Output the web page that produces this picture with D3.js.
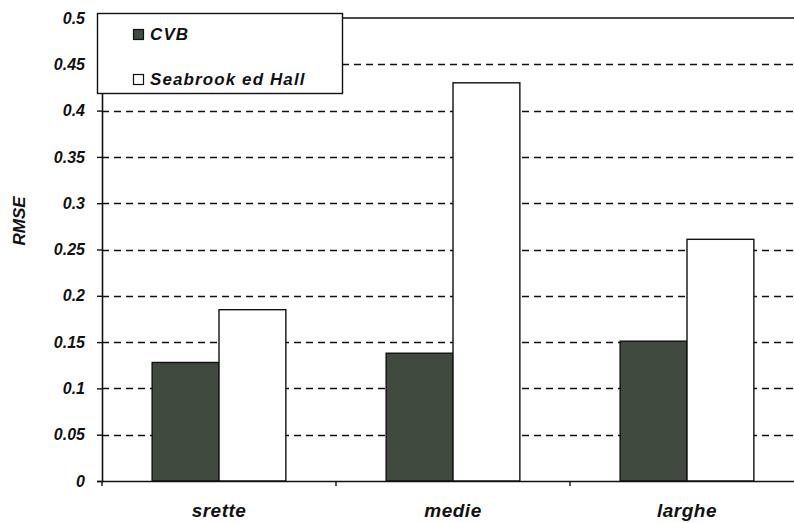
<!DOCTYPE html>
<html>
<head>
<meta charset="utf-8">
<script src="https://cdn.jsdelivr.net/npm/d3@7"></script>
<style>
  html, body { margin: 0; padding: 0; background: #fff; }
  svg { display: block; }
  text { font-family: "Liberation Sans", Arial, sans-serif; font-weight: bold; font-style: italic; fill: #111; }
</style>
</head>
<body>
<svg id="chart" width="794" height="523"></svg>
<script>
// Dataset: RMSE per canal width class
const categories = ["srette", "medie", "larghe"];
const seriesNames = ["CVB", "Seabrook ed Hall"];
const cvbValues = [0.128, 0.138, 0.151];
const seabrookValues = [0.185, 0.43, 0.261];
const yTicks = [0, 0.05, 0.1, 0.15, 0.2, 0.25, 0.3, 0.35, 0.4, 0.45, 0.5];
const yTickLabels = ["0", "0.05", "0.1", "0.15", "0.2", "0.25", "0.3", "0.35", "0.4", "0.45", "0.5"];
const yTitle = "RMSE";

const colors = ["#404a3f", "#ffffff"];

const svg = d3.select("#chart");
const plotLeft = 102, plotRight = 804, plotTop = 18, plotBottom = 481;

const x = d3.scaleBand().domain(categories).range([plotLeft, plotRight]).paddingInner(0).paddingOuter(0);
// each group: 2 bars plus a gap of 1.5 bar widths
const barW = x.bandwidth() / 3.5;
const y = d3.scaleLinear().domain([0, 0.5]).range([plotBottom, plotTop]);

// Dashed gridlines
svg.append("g")
  .selectAll("line")
  .data(yTicks.filter(d => d > 0 && d < 0.5))
  .join("line")
  .attr("x1", plotLeft).attr("x2", plotRight)
  .attr("y1", d => Math.round(y(d)) + 0.5).attr("y2", d => Math.round(y(d)) + 0.5)
  .attr("stroke", "#111").attr("stroke-width", 1.6)
  .attr("stroke-dasharray", "7,5");

// Top border of plot area
svg.append("line")
  .attr("x1", plotLeft).attr("x2", plotRight)
  .attr("y1", y(0.5)).attr("y2", y(0.5))
  .attr("stroke", "#111").attr("stroke-width", 1.4);

// Bars
const rows = categories.map((c, i) => ({ cat: c, vals: [cvbValues[i], seabrookValues[i]] }));
const groups = svg.append("g").selectAll("g")
  .data(rows).join("g")
  .attr("transform", d => `translate(${x(d.cat)},0)`);

groups.selectAll("rect")
  .data(d => d.vals.map((v, k) => ({ v, k })))
  .join("rect")
  .attr("x", d => x.bandwidth() / 2 + (d.k - 1) * barW)
  .attr("width", barW)
  .attr("y", d => y(d.v))
  .attr("height", d => y(0) - y(d.v))
  .attr("fill", d => colors[d.k])
  .attr("stroke", "#111").attr("stroke-width", 1.4);

// Y axis
const yAxis = d3.axisLeft(y).tickValues(yTicks).tickFormat((d, i) => yTickLabels[i]).tickSize(5).tickPadding(12);
const ya = svg.append("g").attr("transform", `translate(${plotLeft},0)`).call(yAxis);
ya.select(".domain").attr("stroke", "#111").attr("stroke-width", 1.6);
ya.selectAll(".tick line").attr("stroke", "#111").attr("stroke-width", 1.4);
ya.selectAll(".tick text").attr("font-size", 16).attr("font-family", "Liberation Sans, Arial, sans-serif")
  .attr("font-weight", "bold").attr("font-style", "italic").attr("fill", "#111");

// X axis
const xAxis = d3.axisBottom(x).tickSize(0).tickFormat(() => "");
const xa = svg.append("g").attr("transform", `translate(0,${plotBottom})`).call(xAxis);
xa.select(".domain").attr("stroke", "#111").attr("stroke-width", 1.6);
// category divider ticks
svg.append("g").selectAll("line")
  .data(categories)
  .join("line")
  .attr("x1", d => x(d)).attr("x2", d => x(d))
  .attr("y1", plotBottom).attr("y2", plotBottom + 5)
  .attr("stroke", "#111").attr("stroke-width", 1.4);

// Category labels
svg.append("g").selectAll("text")
  .data(categories).join("text")
  .attr("x", d => x(d) + x.bandwidth() / 2)
  .attr("y", 517)
  .attr("text-anchor", "middle")
  .attr("font-size", 19)
  .attr("letter-spacing", 0.5)
  .text(d => d);

// Y title
svg.append("text")
  .attr("transform", "translate(25,221) rotate(-90)")
  .attr("text-anchor", "middle")
  .attr("font-size", 17)
  .text(yTitle);

// Legend
const legend = svg.append("g");
legend.append("rect")
  .attr("x", 97.5).attr("y", 13.5).attr("width", 245).attr("height", 80)
  .attr("fill", "#fff").attr("stroke", "#111").attr("stroke-width", 1.4);
const ly = [34, 79];
seriesNames.forEach((name, i) => {
  legend.append("rect")
    .attr("x", 133.5).attr("y", ly[i] - 4.5).attr("width", 10).attr("height", 10)
    .attr("fill", colors[i]).attr("stroke", "#111").attr("stroke-width", 1.2);
  legend.append("text")
    .attr("x", 150).attr("y", ly[i] + 6)
    .attr("font-size", 17)
    .attr("letter-spacing", 1.1)
    .text(name);
});
</script>
</body>
</html>
